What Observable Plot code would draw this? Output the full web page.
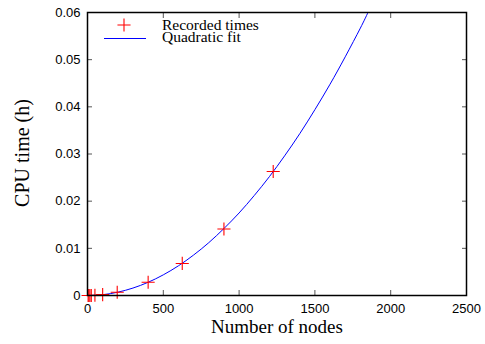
<!DOCTYPE html>
<html><head><meta charset="utf-8">
<script src="https://cdn.jsdelivr.net/npm/d3@7"></script>
<script src="https://cdn.jsdelivr.net/npm/@observablehq/plot@0.6"></script>
<style>
body{margin:0;background:#fff;}
svg text{fill:#000;}
</style>
</head><body><div id="chart"></div>
<script>
const nodes = [4, 9, 16, 25, 49, 100, 196, 400, 625, 900, 1225];
const cpuHours = [0.0000003, 0.0000014, 0.0000045, 0.000011, 0.00004, 0.00018, 0.00068, 0.0028, 0.0068, 0.0141, 0.0263];
const fitNodes = [0, 100, 200, 300, 400, 500, 600, 700, 800, 900, 1000, 1100, 1200, 1300, 1400, 1500, 1600, 1700, 1800, 1850];
const fitHours = [0, 0.000175, 0.0007, 0.00158, 0.0028, 0.00438, 0.0063, 0.00858, 0.0112, 0.0142, 0.0175, 0.0212, 0.0252, 0.0296, 0.0343, 0.0394, 0.0448, 0.0506, 0.0567, 0.06];
const xTicks = [0, 500, 1000, 1500, 2000, 2500];
const yTicks = [0, 0.01, 0.02, 0.03, 0.04, 0.05, 0.06];
const legendLabels = ["Recorded times", "Quadratic fit"];

const pts = nodes.map((n, i) => ({n, t: cpuHours[i]}));
const fit = fitNodes.map((n, i) => ({n, t: fitHours[i]}));
const tickStroke = "#555";

const plot = Plot.plot({
  width: 485, height: 344,
  marginLeft: 87, marginRight: 19, marginTop: 12, marginBottom: 49,
  style: {fontFamily: "'Liberation Sans', Arial, sans-serif", fontSize: "13px", background: "#fff", color: "#000"},
  x: {domain: [0, 2500], label: null},
  y: {domain: [0, 0.06], label: null},
  marks: [
    Plot.axisX({ticks: xTicks, anchor: "bottom", tickSize: 0, tickPadding: 8, tickFormat: d => String(d), fontSize: 13}),
    Plot.axisX({ticks: xTicks, anchor: "bottom", tickSize: -5, tickFormat: () => "", stroke: tickStroke}),
    Plot.axisX({ticks: xTicks, anchor: "top", tickSize: -5, tickFormat: () => "", stroke: tickStroke}),
    Plot.axisY({ticks: yTicks, anchor: "left", tickSize: 0, tickPadding: 7, tickFormat: d => d === 0 ? "0" : d3.format(".2f")(d), fontSize: 13}),
    Plot.axisY({ticks: yTicks, anchor: "left", tickSize: -5, tickFormat: () => "", stroke: tickStroke}),
    Plot.axisY({ticks: yTicks, anchor: "right", tickSize: -5, tickFormat: () => "", stroke: tickStroke}),
    Plot.line(fit, {x: "n", y: "t", stroke: "#0000ff", strokeWidth: 1, curve: "natural", clip: true}),
    Plot.dot(pts, {x: "n", y: "t", symbol: "plus", r: 4.3, stroke: "#ff0000", strokeWidth: 1.1}),
    Plot.frame({stroke: "#000", strokeWidth: 1.5})
  ]
});
document.getElementById("chart").appendChild(plot);

const svg = d3.select(plot);
const serif = "'Liberation Serif', 'Times New Roman', serif";
// axis titles
svg.append("text").attr("x", 277).attr("y", 333).attr("text-anchor", "middle")
  .style("font-family", serif).style("font-size", "19px")
  .text("Number of nodes");
svg.append("text").attr("transform", "translate(29,153) rotate(-90)").attr("text-anchor", "middle")
  .style("font-family", serif).style("font-size", "20px")
  .text("CPU time (h)");
// legend
const lg = svg.append("g").style("font-family", serif).style("font-size", "15.5px").attr("text-anchor", "start");
lg.append("path").attr("d", d3.symbol(d3.symbolPlus, Math.PI * 4.3 * 4.3)()).attr("transform", "translate(124,25)")
  .attr("fill", "none").attr("stroke", "#ff0000").attr("stroke-width", 1.1);
lg.append("text").attr("x", 162).attr("y", 30).attr("text-anchor", "start").text(legendLabels[0]);
lg.append("line").attr("x1", 104).attr("x2", 146).attr("y1", 38.5).attr("y2", 38.5).attr("stroke", "#0000ff").attr("stroke-width", 1);
lg.append("text").attr("x", 162).attr("y", 42).attr("text-anchor", "start").text(legendLabels[1]);
</script>
</body></html>
